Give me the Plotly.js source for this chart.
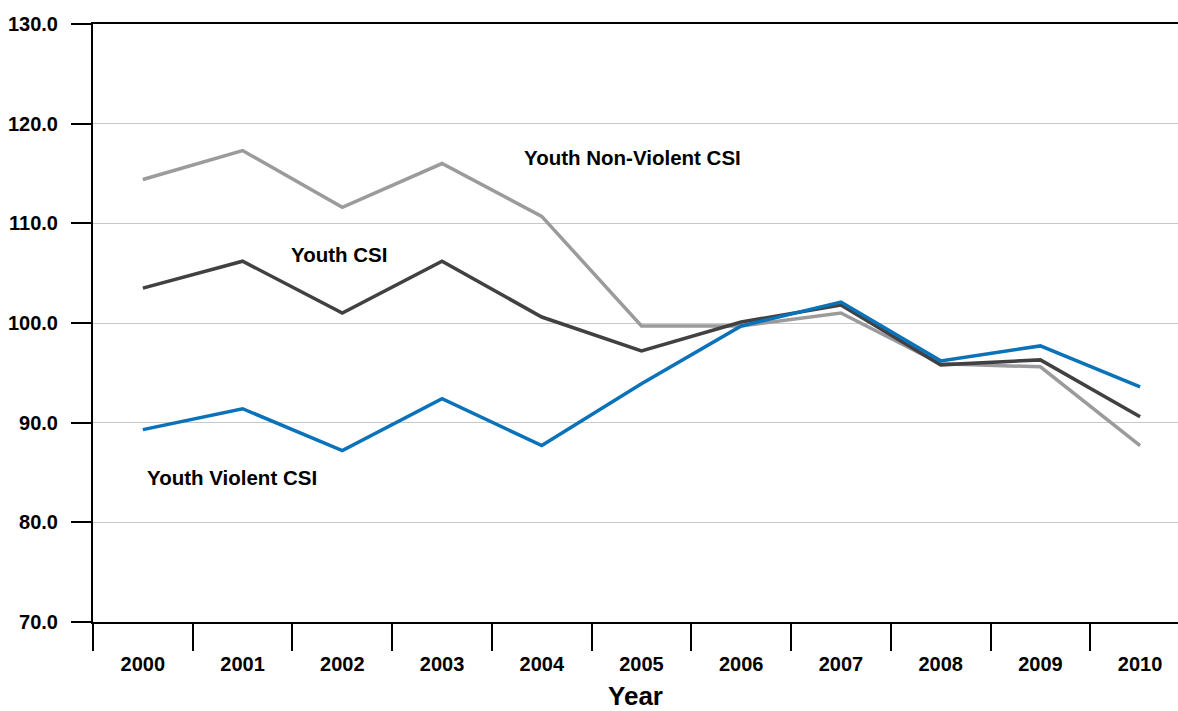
<!DOCTYPE html>
<html>
<head>
<meta charset="utf-8">
<script src="https://cdn.plot.ly/plotly-3.0.1.min.js"></script>
<style>html,body{margin:0;padding:0;background:#fff}#chart{width:1178px;height:711px}</style>
</head>
<body>
<div id="chart"></div>
<script>
const years = ["2000","2001","2002","2003","2004","2005","2006","2007","2008","2009","2010"];
const youthNonViolentCSI = [114.4,117.3,111.6,116.0,110.7,99.7,99.7,101.0,95.9,95.6,87.7];
const youthCSI = [103.5,106.2,101.0,106.2,100.6,97.2,100.1,101.8,95.8,96.3,90.6];
const youthViolentCSI = [89.3,91.4,87.2,92.4,87.7,93.9,99.7,102.1,96.2,97.7,93.6];
const yTicks = [70,80,90,100,110,120,130];

const FONT = "'Liberation Sans', Arial, Helvetica, sans-serif";

const traces = [
  {x: years, y: youthNonViolentCSI, type: 'scatter', mode: 'lines', name: 'Youth Non-Violent CSI',
   line: {color: '#9b9b9d', width: 3.5}},
  {x: years, y: youthCSI, type: 'scatter', mode: 'lines', name: 'Youth CSI',
   line: {color: '#414143', width: 3.5}},
  {x: years, y: youthViolentCSI, type: 'scatter', mode: 'lines', name: 'Youth Violent CSI',
   line: {color: '#0a72b8', width: 3.5}}
];

const annFont = {family: FONT, size: 20.5, color: '#000', weight: 'bold'};
const layout = {
  width: 1178, height: 711,
  margin: {l: 93, r: 0, t: 24, b: 89},
  paper_bgcolor: '#fff', plot_bgcolor: '#fff',
  showlegend: false,
  font: {family: FONT, color: '#000'},
  xaxis: {
    type: 'category',
    range: [-0.5, 10.38],
    tickson: 'boundaries',
    ticks: 'outside', ticklen: 27, tickwidth: 2, tickcolor: '#000',
    ticklabelstandoff: 23,
    showline: true, linecolor: '#000', linewidth: 2, mirror: true,
    showgrid: false, zeroline: false,
    tickfont: {family: FONT, size: 20, color: '#000', weight: 'bold'},
    title: {text: 'Year', font: {family: FONT, size: 26, color: '#000', weight: 'bold'}, standoff: 16}
  },
  yaxis: {
    range: [70, 130],
    tickvals: yTicks,
    tickformat: '.1f',
    ticks: 'outside', ticklen: 20, tickwidth: 2, tickcolor: '#000',
    ticklabelstandoff: 9,
    showline: true, linecolor: '#000', linewidth: 2,
    showgrid: true, gridcolor: '#c8c8c8', gridwidth: 1,
    zeroline: false,
    tickfont: {family: FONT, size: 20, color: '#000', weight: 'bold'}
  },
  annotations: [
    {x: 4.91, y: 116.6, xref: 'x', yref: 'y', text: 'Youth Non-Violent CSI', showarrow: false, font: annFont},
    {x: 1.97, y: 106.9, xref: 'x', yref: 'y', text: 'Youth CSI', showarrow: false, font: annFont},
    {x: 0.89, y: 84.5, xref: 'x', yref: 'y', text: 'Youth Violent CSI', showarrow: false, font: annFont}
  ]
};

Plotly.newPlot('chart', traces, layout, {displayModeBar: false, staticPlot: true});
</script>
</body>
</html>
